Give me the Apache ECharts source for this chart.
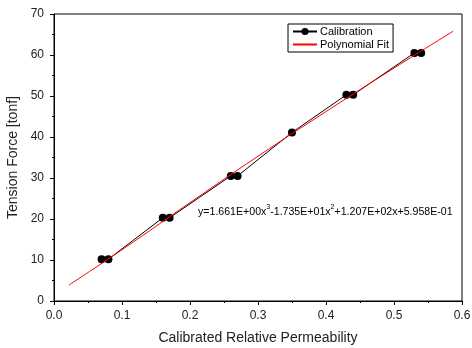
<!DOCTYPE html>
<html><head><meta charset="utf-8">
<script src="https://cdn.jsdelivr.net/npm/echarts@6/dist/echarts.min.js"></script>
<style>html,body{margin:0;padding:0;background:#fff}#c{width:472px;height:348px}</style>
</head><body><div id="c"></div>
<script>
const calibX = [0.07, 0.08, 0.16, 0.17, 0.26, 0.27, 0.35, 0.43, 0.44, 0.53, 0.54];
const calibY = [10.2, 10.2, 20.3, 20.3, 30.5, 30.5, 41.1, 50.3, 50.3, 60.5, 60.5];
const fitX = [0.022, 0.1, 0.2, 0.3, 0.4, 0.5, 0.587];
const fitY = [3.9, 12.5, 24.0, 35.3, 46.2, 56.8, 65.8];
const xTicks = ['0.0','0.1','0.2','0.3','0.4','0.5','0.6'];
const yTicks = ['0','10','20','30','40','50','60','70'];
const seriesNames = ['Calibration', 'Polynomial Fit'];

const chart = echarts.init(document.getElementById('c'));
const font = 'Liberation Sans, Arial, sans-serif';
chart.setOption({
  animation: false,
  grid: {left: 54, right: 10, top: 14, bottom: 47, show: true, borderColor: '#000', borderWidth: 1,
         backgroundColor: 'transparent', containLabel: false, outerBoundsMode: 'none'},
  xAxis: {
    type: 'value', min: 0, max: 0.6, interval: 0.1,
    name: 'Calibrated Relative Permeability', nameLocation: 'middle', nameGap: 30,
    nameTextStyle: {fontFamily: font, fontSize: 14, color: '#222'},
    axisLine: {show: true, onZero: false, lineStyle: {color: '#000', width: 1}},
    axisTick: {show: true, inside: false, length: 4, lineStyle: {color: '#000'}},
    minorTick: {show: true, splitNumber: 2, length: 2, lineStyle: {color: '#000'}},
    splitLine: {show: false},
    axisLabel: {fontFamily: font, fontSize: 12, color: '#222', margin: 9,
      formatter: v => xTicks[Math.round(v * 10)]}
  },
  yAxis: {
    type: 'value', min: 0, max: 70, interval: 10,
    name: 'Tension Force [tonf]', nameLocation: 'middle', nameGap: 28,
    nameTextStyle: {fontFamily: font, fontSize: 14, color: '#222'},
    axisLine: {show: true, onZero: false, lineStyle: {color: '#000', width: 1}},
    axisTick: {show: true, inside: false, length: 4, lineStyle: {color: '#000'}},
    minorTick: {show: true, splitNumber: 2, length: 2, lineStyle: {color: '#000'}},
    splitLine: {show: false},
    axisLabel: {fontFamily: font, fontSize: 12, color: '#222', margin: 10,
      formatter: v => yTicks[Math.round(v / 10)]}
  },
  legend: {
    orient: 'vertical', left: 288, top: 24, itemGap: 2, itemWidth: 24, itemHeight: 9,
    padding: [2, 4, 2, 4], borderColor: '#000', borderWidth: 1, backgroundColor: '#fff',
    textStyle: {fontFamily: font, fontSize: 11, color: '#000', padding: [0, 0, 0, -2]},
    data: [{name: seriesNames[0]}, {name: seriesNames[1], itemStyle: {opacity: 0}}]
  },
  series: [
    {name: seriesNames[0], type: 'line', data: calibX.map((x, i) => [x, calibY[i]]),
     symbol: 'circle', symbolSize: 8, color: '#000',
     lineStyle: {color: '#000', width: 1}, itemStyle: {color: '#000'}, z: 2},
    {name: seriesNames[1], type: 'line', data: fitX.map((x, i) => [x, fitY[i]]),
     symbol: 'none', smooth: true, color: '#f00',
     lineStyle: {color: '#f00', width: 1}, z: 3}
  ],
  graphic: [{
    type: 'text', left: 198, top: 204,
    style: {
      text: '{a|y=1.661E+00x}{s|3}{a|-1.735E+01x}{s|2}{a|+1.207E+02x+5.958E-01}',
      rich: {
        a: {fontFamily: font, fontSize: 10.6, fill: '#000', verticalAlign: 'bottom', lineHeight: 14},
        s: {fontFamily: font, fontSize: 7, fill: '#000', verticalAlign: 'top', lineHeight: 14, padding: [0,0,6,0]}
      }
    }
  }]
});
</script></body></html>
